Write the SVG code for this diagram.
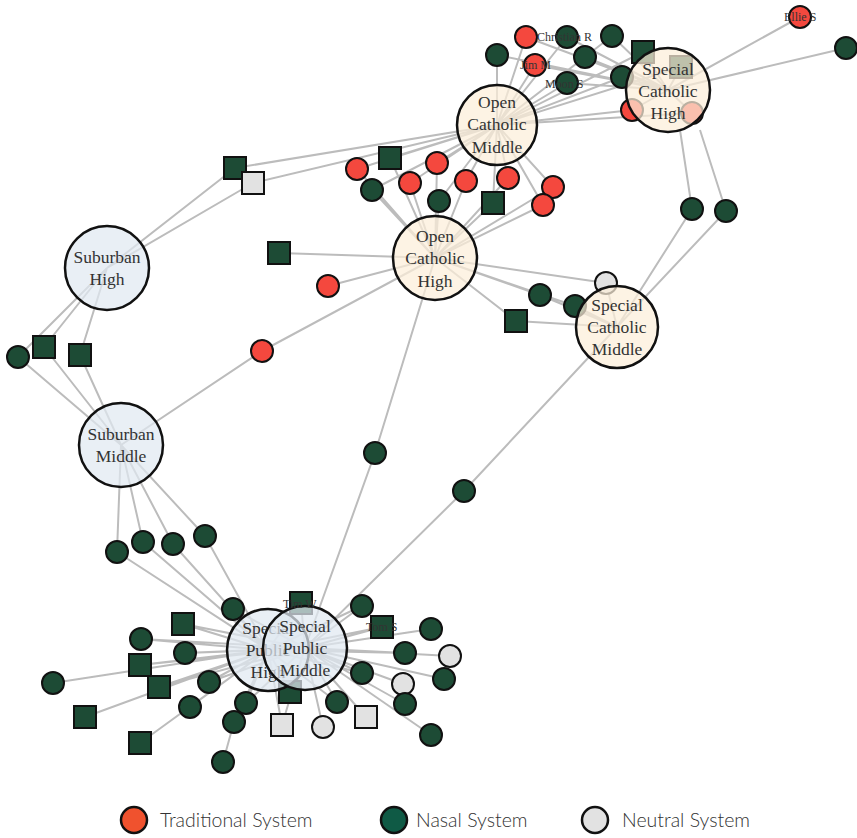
<svg xmlns="http://www.w3.org/2000/svg" width="857" height="838" viewBox="0 0 857 838">
<style>
.e{stroke:#bcbcbc;stroke-width:2;fill:none}
.t{fill:#f4483e;stroke:#111;stroke-width:2}
.n{fill:#1d4b35;stroke:#111;stroke-width:2}
.u{fill:#e2e2e2;stroke:#111;stroke-width:2}
.cat{fill:#fcefd9;fill-opacity:0.72;stroke:#111;stroke-width:2.5}
.pub{fill:#e1e9f1;fill-opacity:0.72;stroke:#111;stroke-width:2.5}
.lbl{font-family:"Liberation Serif",serif;font-size:17.5px;fill:#333;text-anchor:middle}
.sl{font-family:"Liberation Serif",serif;font-size:12px;fill:#333}
.lg{font-family:Lato,"Noto Sans",sans-serif;font-size:19.5px;font-weight:300;fill:#333}
</style>
<rect width="857" height="838" fill="#fff"/>
<g id="connectors">
<path class="e" d="M497,55L497,125M497,55L668,90M526,37L497,125M526,37L668,90M567,37L497,125M567,37L668,90M612,36L497,125M612,36L668,90M643,52L497,125M643,52L668,90M681,67L497,125M681,67L668,90M585,57L497,125M585,57L668,90M535,65L497,125M535,65L668,90M567,83L497,125M567,83L668,90M622,77L497,125M622,77L668,90M632,110L497,125M632,110L668,90M692,113L497,125M692,113L668,90M800,17L668,90M846,48L668,90M692,209L680,130M692,209L617,327M726,211L700,130M726,211L617,327"/>
<path class="e" d="M235,168L497,125M235,168L107,268M253,183L497,125M253,183L107,268M357,169L497,125M357,169L435,258M372,190L497,125M372,190L435,258M390,158L497,125M390,158L435,258M410,183L497,125M410,183L435,258M437,163L497,125M437,163L435,258M439,201L497,125M439,201L435,258M466,181L497,125M466,181L435,258M493,203L497,125M493,203L435,258M508,178L497,125M508,178L435,258M553,187L497,125M553,187L435,258M543,205L497,125M543,205L435,258M279,253L435,258M328,286L435,258M262,351L435,258M262,351L121,445M375,453L435,258M375,453L305,648M464,491L617,327M464,491L305,648M606,283L435,258M606,283L617,327M540,295L435,258M540,295L617,327M575,306L435,258M575,306L617,327M516,321L435,258M516,321L617,327"/>
<path class="e" d="M18,357L107,268M18,357L121,445M44,347L107,268M44,347L121,445M80,355L107,268M80,355L121,445M117,552L121,445M117,552L268,650M143,542L121,445M143,542L268,650M173,544L121,445M173,544L268,650M205,536L121,445M205,536L268,650"/>
<path class="e" d="M233,609L268,650M233,609L305,648M301,603L268,650M301,603L305,648M362,606L268,650M362,606L305,648M382,627L268,650M382,627L305,648M431,629L305,648M405,653L268,650M405,653L305,648M450,656L305,648M362,673L268,650M362,673L305,648M444,679L305,648M403,684L305,648M290,692L268,650M290,692L305,648M246,703L268,650M246,703L305,648M337,702L268,650M337,702L305,648M405,704L305,648M282,725L268,650M282,725L305,648M323,727L305,648M366,717L305,648M431,735L305,648M234,722L268,650M223,762L234,722M183,624L268,650M183,624L305,648M141,639L268,650M141,639L305,648M185,653L268,650M185,653L305,648M140,665L268,650M140,665L305,648M159,687L268,650M159,687L305,648M53,683L268,650M209,682L268,650M209,682L305,648M190,707L268,650M85,717L268,650M140,743L268,650"/>
</g>
<g id="small-nodes">
<circle id="t1" class="n" cx="497" cy="55" r="11"/>
<circle id="christian-r" class="t" cx="526" cy="37" r="11"/>
<circle id="t3" class="n" cx="567" cy="37" r="11"/>
<circle id="t4" class="n" cx="612" cy="36" r="11"/>
<rect id="t5" class="n" x="632" y="41" width="22" height="22"/>
<rect id="t6" class="n" x="670" y="56" width="22" height="22"/>
<circle id="t7" class="n" cx="585" cy="57" r="11"/>
<circle id="jim-m" class="t" cx="535" cy="65" r="11"/>
<circle id="moon-s" class="n" cx="567" cy="83" r="11"/>
<circle id="t10" class="n" cx="622" cy="77" r="11"/>
<circle id="t11" class="t" cx="632" cy="110" r="11"/>
<circle id="t12" class="t" cx="692" cy="113" r="11"/>
<circle id="ellie-s" class="t" cx="800" cy="17" r="11"/>
<circle id="t14" class="n" cx="846" cy="48" r="11"/>
<circle id="r1" class="n" cx="692" cy="209" r="11"/>
<circle id="r2" class="n" cx="726" cy="211" r="11"/>
<rect id="m1" class="n" x="224" y="157" width="22" height="22"/>
<rect id="m2" class="u" x="242" y="172" width="22" height="22"/>
<circle id="m3" class="t" cx="357" cy="169" r="11"/>
<circle id="m4" class="n" cx="372" cy="190" r="11"/>
<rect id="m5" class="n" x="379" y="147" width="22" height="22"/>
<circle id="m6" class="t" cx="410" cy="183" r="11"/>
<circle id="m7" class="t" cx="437" cy="163" r="11"/>
<circle id="m8" class="n" cx="439" cy="201" r="11"/>
<circle id="m9" class="t" cx="466" cy="181" r="11"/>
<rect id="m10" class="n" x="482" y="192" width="22" height="22"/>
<circle id="m11" class="t" cx="508" cy="178" r="11"/>
<circle id="m12" class="t" cx="553" cy="187" r="11"/>
<circle id="m13" class="t" cx="543" cy="205" r="11"/>
<rect id="m14" class="n" x="268" y="242" width="22" height="22"/>
<circle id="m15" class="t" cx="328" cy="286" r="11"/>
<circle id="m16" class="t" cx="262" cy="351" r="11"/>
<circle id="m17" class="n" cx="375" cy="453" r="11"/>
<circle id="m18" class="n" cx="464" cy="491" r="11"/>
<circle id="m19" class="u" cx="606" cy="283" r="11"/>
<circle id="m20" class="n" cx="540" cy="295" r="11"/>
<circle id="m21" class="n" cx="575" cy="306" r="11"/>
<rect id="m22" class="n" x="505" y="310" width="22" height="22"/>
<circle id="l1" class="n" cx="18" cy="357" r="11"/>
<rect id="l2" class="n" x="33" y="336" width="22" height="22"/>
<rect id="l3" class="n" x="69" y="344" width="22" height="22"/>
<circle id="l4" class="n" cx="117" cy="552" r="11"/>
<circle id="l5" class="n" cx="143" cy="542" r="11"/>
<circle id="l6" class="n" cx="173" cy="544" r="11"/>
<circle id="l7" class="n" cx="205" cy="536" r="11"/>
<circle id="b1" class="n" cx="233" cy="609" r="11"/>
<rect id="tim-w" class="n" x="290" y="592" width="22" height="22"/>
<circle id="b3" class="n" cx="362" cy="606" r="11"/>
<rect id="tom-s" class="n" x="371" y="616" width="22" height="22"/>
<circle id="b5" class="n" cx="431" cy="629" r="11"/>
<circle id="b6" class="n" cx="405" cy="653" r="11"/>
<circle id="b7" class="u" cx="450" cy="656" r="11"/>
<circle id="b8" class="n" cx="362" cy="673" r="11"/>
<circle id="b9" class="n" cx="444" cy="679" r="11"/>
<circle id="b10" class="u" cx="403" cy="684" r="11"/>
<rect id="b11" class="n" x="279" y="681" width="22" height="22"/>
<circle id="b12" class="n" cx="246" cy="703" r="11"/>
<circle id="b13" class="n" cx="337" cy="702" r="11"/>
<circle id="b14" class="n" cx="405" cy="704" r="11"/>
<rect id="b15" class="u" x="271" y="714" width="22" height="22"/>
<circle id="b16" class="u" cx="323" cy="727" r="11"/>
<rect id="b17" class="u" x="355" y="706" width="22" height="22"/>
<circle id="b18" class="n" cx="431" cy="735" r="11"/>
<circle id="b19" class="n" cx="234" cy="722" r="11"/>
<circle id="b20" class="n" cx="223" cy="762" r="11"/>
<rect id="b21" class="n" x="172" y="613" width="22" height="22"/>
<circle id="b22" class="n" cx="141" cy="639" r="11"/>
<circle id="b23" class="n" cx="185" cy="653" r="11"/>
<rect id="b24" class="n" x="129" y="654" width="22" height="22"/>
<rect id="b25" class="n" x="148" y="676" width="22" height="22"/>
<circle id="b26" class="n" cx="53" cy="683" r="11"/>
<circle id="b27" class="n" cx="209" cy="682" r="11"/>
<circle id="b28" class="n" cx="190" cy="707" r="11"/>
<rect id="b29" class="n" x="74" y="706" width="22" height="22"/>
<rect id="b30" class="n" x="129" y="732" width="22" height="22"/>
</g>
<g id="open-catholic-middle"><circle class="cat" cx="497" cy="125" r="40"/><text class="lbl"><tspan x="497" y="108">Open</tspan><tspan x="497" y="130">Catholic</tspan><tspan x="497" y="153">Middle</tspan></text></g>
<g id="special-catholic-high"><circle class="cat" cx="668" cy="90" r="42"/><text class="lbl"><tspan x="668" y="75">Special</tspan><tspan x="668" y="97">Catholic</tspan><tspan x="668" y="119">High</tspan></text></g>
<g id="open-catholic-high"><circle class="cat" cx="435" cy="258" r="42"/><text class="lbl"><tspan x="435" y="242">Open</tspan><tspan x="435" y="264">Catholic</tspan><tspan x="435" y="287">High</tspan></text></g>
<g id="special-catholic-middle"><circle class="cat" cx="617" cy="327" r="41"/><text class="lbl"><tspan x="617" y="311">Special</tspan><tspan x="617" y="333">Catholic</tspan><tspan x="617" y="355">Middle</tspan></text></g>
<g id="suburban-high"><circle class="pub" cx="107" cy="268" r="42"/><text class="lbl"><tspan x="107" y="263">Suburban</tspan><tspan x="107" y="285">High</tspan></text></g>
<g id="suburban-middle"><circle class="pub" cx="121" cy="445" r="42"/><text class="lbl"><tspan x="121" y="440">Suburban</tspan><tspan x="121" y="462">Middle</tspan></text></g>
<g id="special-public-high"><circle class="pub" cx="268" cy="650" r="41"/><text class="lbl"><tspan x="268" y="634">Special</tspan><tspan x="268" y="656">Public</tspan><tspan x="268" y="678">High</tspan></text></g>
<g id="special-public-middle"><circle class="pub" cx="305" cy="648" r="42"/><text class="lbl"><tspan x="305" y="632">Special</tspan><tspan x="305" y="654">Public</tspan><tspan x="305" y="676">Middle</tspan></text></g>
<g id="name-labels">
<text class="sl" x="537" y="41">Christian R</text>
<text class="sl" x="520" y="69">Jim M</text>
<text class="sl" x="545" y="88">Moon S</text>
<text class="sl" x="784" y="21">Ellie S</text>
<text class="sl" x="283" y="608">Tim W</text>
<text class="sl" x="366" y="631">Tom S</text>
</g>
<g id="legend">
<circle cx="134" cy="820" r="13" fill="#f0522e" stroke="#111" stroke-width="2.5"/>
<text class="lg" x="160" y="827">Traditional System</text>
<circle cx="394" cy="820" r="13" fill="#0f5a45" stroke="#111" stroke-width="2.5"/>
<text class="lg" x="416" y="827">Nasal System</text>
<circle cx="595" cy="820" r="13" fill="#e2e2e2" stroke="#111" stroke-width="2.5"/>
<text class="lg" x="622" y="827">Neutral System</text>
</g>
</svg>
